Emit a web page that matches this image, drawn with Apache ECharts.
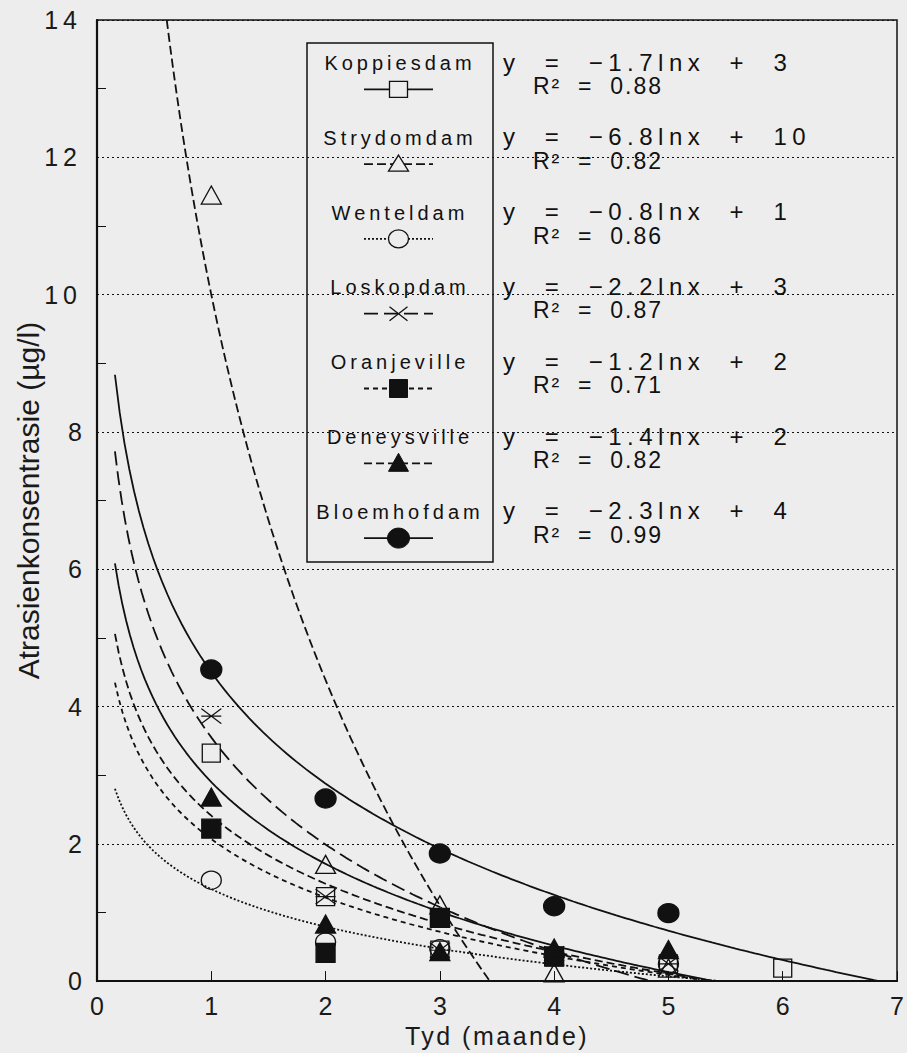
<!DOCTYPE html>
<html><head><meta charset="utf-8">
<script src="https://cdn.jsdelivr.net/npm/echarts@6/dist/echarts.min.js"></script>
<style>html,body{margin:0;padding:0;background:#ededed}#c{width:907px;height:1053px}</style>
</head><body><div id="c"></div>
<script>
// ---------- data ----------
const dams = ['Koppiesdam','Strydomdam','Wenteldam','Loskopdam','Oranjeville','Deneysville','Bloemhofdam'];
const months = [1, 2, 3, 4, 5, 6];
const koppiesdam  = [3.32, 1.23, 0.45, 0.35, 0.25, 0.19];
const strydomdam  = [11.45, 1.70, 1.11, 0.12, 0.19, null];
const wenteldam   = [1.47, 0.57, 0.47, 0.38, 0.25, null];
const loskopdam   = [3.86, 1.23, 0.45, 0.40, 0.25, null];
const oranjeville = [2.22, 0.41, 0.92, 0.36, null, null];
const deneysville = [2.68, 0.83, 0.43, 0.48, 0.46, null];
const bloemhofdam = [4.54, 2.66, 1.86, 1.09, 0.99, null];
// logarithmic trend lines as drawn: y = intercept - slope * ln(x)
const trendSlope     = [1.72, 8.10, 0.79, 2.25, 1.23, 1.43, 2.34];
const trendIntercept = [2.90, 10.0, 1.34, 3.55, 2.07, 2.41, 4.50];
const trendStartX = 0.157;
const equations = ['y  =  −1.7lnx  +  3','y  =  −6.8lnx  +  10','y  =  −0.8lnx  +  1','y  =  −2.2lnx  +  3','y  =  −1.2lnx  +  2','y  =  −1.4lnx  +  2','y  =  −2.3lnx  +  4'];
const rSquared = ['R²  =  0.88','R²  =  0.82','R²  =  0.86','R²  =  0.87','R²  =  0.71','R²  =  0.82','R²  =  0.99'];
const xTickLabels = ['0','1','2','3','4','5','6','7'];
const yTickLabels = ['0','2','4','6','8','10','12','14'];
const xTitle = 'Tyd (maande)';
const yTitle = 'Atrasienkonsentrasie (µg/l)';
const values = [koppiesdam, strydomdam, wenteldam, loskopdam, oranjeville, deneysville, bloemhofdam];

// ---------- styles ----------
const INK = '#111';
const BG = '#ededed';
const FONT = '"Liberation Sans", Arial, sans-serif';
const markerKinds = ['openSquare','openTriangle','openCircle','cross','filledSquare','filledTriangle','filledCircle'];
const lineDashes = ['solid', [9,4], [2,2], [14,6], [5,4], [8,4], 'solid'];
const CROSS = 'path://M0,0L10,8M10,0L0,8M0,4L10,4';

function symbolFor(kind){
  switch(kind){
    case 'openSquare': return {symbol:'rect', size:18, fill:'rgba(0,0,0,0)'};
    case 'openTriangle': return {symbol:'triangle', size:[20,18], fill:'rgba(0,0,0,0)'};
    case 'openCircle': return {symbol:'circle', size:[20,18], fill:'rgba(0,0,0,0)'};
    case 'cross': return {symbol:CROSS, size:[20,15], fill:'rgba(0,0,0,0)'};
    case 'filledSquare': return {symbol:'rect', size:19, fill:INK};
    case 'filledTriangle': return {symbol:'triangle', size:[20,18], fill:INK};
    case 'filledCircle': return {symbol:'circle', size:[21,19], fill:INK};
  }
}

const series = [];
dams.forEach((name, i) => {
  const a = trendSlope[i], b = trendIntercept[i];
  const xEnd = Math.min(7, Math.exp(b / a));
  const xBegin = Math.max(trendStartX, Math.exp((b - 14) / a));
  const pts = [];
  const n = 160;
  for (let k = 0; k <= n; k++) {
    const x = xBegin + (xEnd - xBegin) * k / n;
    pts.push([x, Math.max(0, b - a * Math.log(x))]);
  }
  series.push({
    type:'line', name: name + ' trend', data: pts, showSymbol:false, smooth:false,
    lineStyle:{color:INK, width:1.8, type: lineDashes[i]}, silent:true, z:2
  });
  const s = symbolFor(markerKinds[i]);
  series.push({
    type:'scatter', name: name,
    data: months.map((m, j) => values[i][j] == null ? null : [m, values[i][j]]).filter(d => d),
    symbol: s.symbol, symbolSize: s.size,
    itemStyle:{color:s.fill, borderColor:INK, borderWidth:1.3, opacity:1}, z:3
  });
});

// ---------- legend box ----------
const graphics = [];
const boxX = 307, boxY = 43, boxW = 186, boxH = 519;
graphics.push({type:'rect', shape:{x:boxX, y:boxY, width:boxW, height:boxH}, style:{fill:'rgba(0,0,0,0)', stroke:INK, lineWidth:1.5}, z:10});
const step = 74.8;
function legendMarker(kind, cx, cy){
  const open = {fill:BG, stroke:INK, lineWidth:1.3};
  const solid = {fill:INK, stroke:INK, lineWidth:1};
  switch(kind){
    case 'openSquare': return {type:'rect', shape:{x:cx-9, y:cy-8, width:18, height:16}, style:open, z:12};
    case 'openTriangle': return {type:'polygon', shape:{points:[[cx,cy-9],[cx+10,cy+7],[cx-10,cy+7]]}, style:open, z:12};
    case 'openCircle': return {type:'ellipse', shape:{cx:cx, cy:cy, rx:10, ry:9}, style:open, z:12};
    case 'cross': return {type:'group', children:[
        {type:'line', shape:{x1:cx-9,y1:cy-7,x2:cx+9,y2:cy+7}, style:{stroke:INK, lineWidth:1.3}},
        {type:'line', shape:{x1:cx+9,y1:cy-7,x2:cx-9,y2:cy+7}, style:{stroke:INK, lineWidth:1.3}}], z:12};
    case 'filledSquare': return {type:'rect', shape:{x:cx-9, y:cy-9, width:18, height:18}, style:solid, z:12};
    case 'filledTriangle': return {type:'polygon', shape:{points:[[cx,cy-10],[cx+10,cy+8],[cx-10,cy+8]]}, style:solid, z:12};
    case 'filledCircle': return {type:'ellipse', shape:{cx:cx, cy:cy, rx:11, ry:10}, style:solid, z:12};
  }
}
dams.forEach((name, i) => {
  const ty = 63 + i * step;
  const ly = 89.3 + i * step;
  graphics.push({type:'text', x:400, y:ty, style:{text:name, fill:INK, font:'20px ' + FONT, align:'center', verticalAlign:'middle'}, z:11});
  const dash = lineDashes[i] === 'solid' ? null : lineDashes[i];
  graphics.push({type:'line', shape:{x1:364, y1:ly, x2:433, y2:ly}, style:{stroke:INK, lineWidth:1.8, lineDash:dash}, z:11});
  graphics.push(legendMarker(markerKinds[i], 398.5, ly));
  graphics.push({type:'text', x:503, y:62 + i * step, style:{text:equations[i], fill:INK, font:'24px ' + FONT, align:'left', verticalAlign:'middle'}, z:11});
  graphics.push({type:'text', x:533, y:86 + i * step, style:{text:rSquared[i], fill:INK, font:'23px ' + FONT, align:'left', verticalAlign:'middle'}, z:11});
});

const chart = echarts.init(document.getElementById('c'), null, {renderer:'svg'});
chart.setOption({
  animation:false,
  backgroundColor: BG,
  grid:{left:97, top:20, width:800, height:965, show:true, borderColor:INK, borderWidth:1.5, backgroundColor:'transparent'},
  xAxis:{
    type:'value', min:0, max:7, interval:1,
    axisLine:{show:true, onZero:false, lineStyle:{color:INK, width:2.2}},
    axisTick:{show:true, inside:true, length:10, lineStyle:{color:INK, width:1}},
    axisLabel:{color:'#1a1a1a', fontSize:25, fontFamily:FONT, margin:12, formatter:(v)=>xTickLabels[Math.round(v)]},
    splitLine:{show:false},
    name:xTitle, nameLocation:'middle', nameGap:38,
    nameTextStyle:{color:'#1a1a1a', fontSize:25, fontFamily:FONT}
  },
  yAxis:{
    type:'value', min:0, max:14, interval:2,
    axisLine:{show:true, lineStyle:{color:INK, width:2.2}},
    axisTick:{show:false, inside:true},
    minorTick:{show:true, splitNumber:2, length:9, lineStyle:{color:INK, width:1}},
    axisLabel:{color:'#1a1a1a', fontSize:25, fontFamily:FONT, margin:15, formatter:(v)=>yTickLabels[Math.round(v/2)]},
    splitLine:{show:true, lineStyle:{color:INK, width:1.2, type:[2,3]}},
    name:yTitle, nameLocation:'middle', nameGap:44,
    nameTextStyle:{color:'#1a1a1a', fontSize:30, fontFamily:FONT}
  },
  series: series,
  graphic: graphics
});

// letter spacing to mimic the wide plotter lettering
function applySpacing(){
  const map = new Map();
  dams.forEach(d => map.set(d, '4px'));
  equations.forEach(e => map.set(e, '5.5px'));
  rSquared.forEach(r => map.set(r, '2px'));
  map.set(xTitle, '2.5px');
  ['10','12','14'].forEach(t => map.set(t, '5px'));
  document.querySelectorAll('#c svg text').forEach(t => {
    const s = map.get(t.textContent);
    if (s) t.style.letterSpacing = s;
  });
}
try { applySpacing(); } catch(e) {}
chart.on('finished', () => { try { applySpacing(); } catch(e) {} });
setTimeout(() => { try { applySpacing(); } catch(e) {} }, 50);
</script>
</body></html>
